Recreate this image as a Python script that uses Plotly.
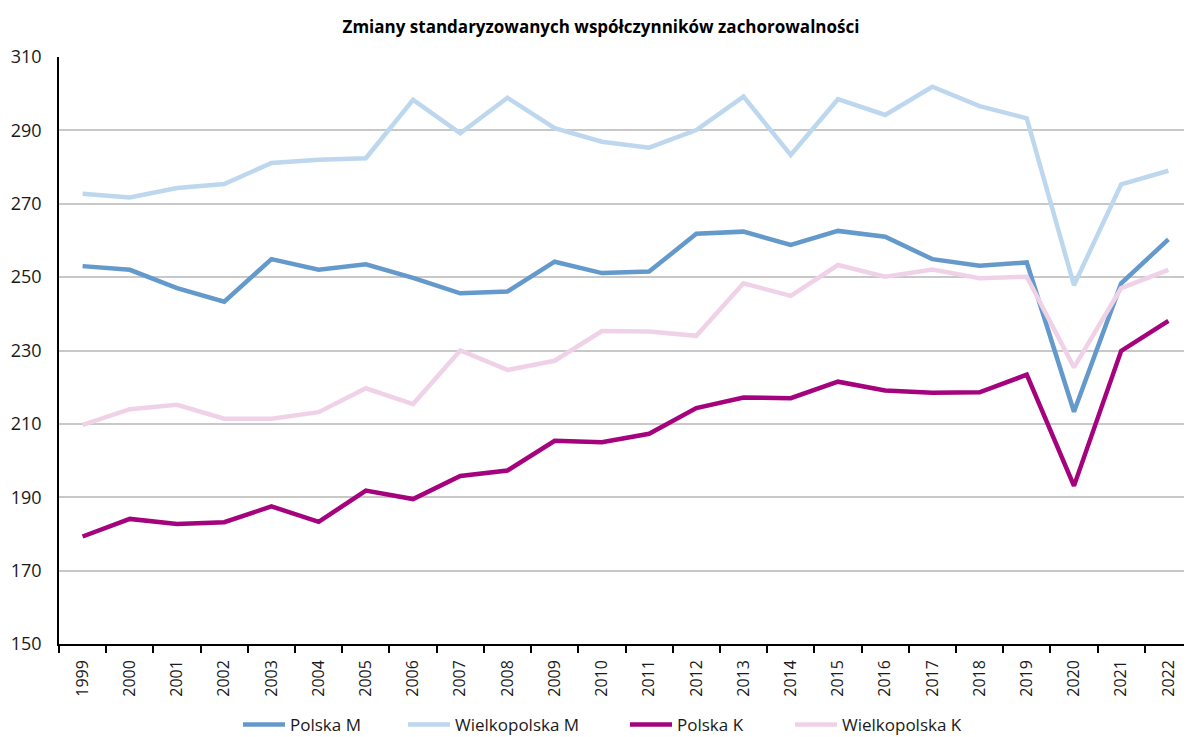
import plotly.graph_objects as go

years = [str(y) for y in range(1999, 2023)]

polska_m = [253.0, 252.0, 247.0, 243.3, 254.9, 252.0, 253.5, 249.8, 245.6, 246.1, 254.2, 251.1,
            251.5, 261.8, 262.4, 258.8, 262.6, 261.0, 254.9, 253.1, 254.0, 213.3, 248.3, 260.3]
wlkp_m = [272.7, 271.7, 274.3, 275.4, 281.1, 282.0, 282.4, 298.3, 289.2, 298.9, 290.6, 286.9,
          285.3, 290.1, 299.2, 283.3, 298.5, 294.2, 301.9, 296.6, 293.3, 247.8, 275.3, 279.0]
polska_k = [179.3, 184.1, 182.7, 183.2, 187.5, 183.3, 191.8, 189.5, 195.8, 197.3, 205.4, 205.0,
            207.3, 214.3, 217.2, 217.0, 221.5, 219.1, 218.5, 218.6, 223.4, 193.1, 229.9, 238.1]
wlkp_k = [209.7, 214.0, 215.2, 211.4, 211.4, 213.2, 219.7, 215.4, 230.0, 224.7, 227.2, 235.3,
          235.2, 234.0, 248.3, 244.9, 253.3, 250.1, 252.1, 249.7, 250.1, 225.4, 247.0, 252.0]

names = ["Polska M", "Wielkopolska M", "Polska K", "Wielkopolska K"]
colors = ["#6499CC", "#BDD7EE", "#A5027D", "#F0D2E8"]
values = [polska_m, wlkp_m, polska_k, wlkp_k]

y_ticks = [150, 170, 190, 210, 230, 250, 270, 290, 310]

# page offset of the figure (body margin) is 8 px
W, H = 1184, 729
ML, MT, MB = 51, 49, 93
plot_w = W - ML
plot_h = H - MT - MB

# target page x of each legend line start
legend_line_x = [243, 408, 630, 795]
legend_ids = ["legend", "legend2", "legend3", "legend4"]

fig = go.Figure()
for i, (name, vals, color) in enumerate(zip(names, values, colors)):
    fig.add_trace(go.Scatter(x=years, y=vals, name=name, mode="lines",
                             line=dict(color=color, width=4.5),
                             legend=legend_ids[i]))

legend_y = (636 - 717) / plot_h
layout_legends = {}
for i, lid in enumerate(legend_ids):
    layout_legends[lid] = dict(
        orientation="h", x=(legend_line_x[i] - 8 - ML - 5) / plot_w, xanchor="left",
        y=legend_y, yanchor="middle", font=dict(size=17, color="#1a1a1a"),
        itemwidth=42, bgcolor="rgba(0,0,0,0)", borderwidth=0,
    )

fig.update_layout(
    width=W, height=H,
    paper_bgcolor="white", plot_bgcolor="white",
    margin=dict(l=ML, r=0, t=MT, b=MB, pad=0, autoexpand=False),
    font=dict(family="Open Sans", color="#1a1a1a"),
    title=dict(text="<b>Zmiany standaryzowanych współczynników zachorowalności</b>",
               x=593 / W, xanchor="center", y=1 - 19 / H, yanchor="middle",
               font=dict(size=17, family="Open Sans", color="black")),
    showlegend=True,
    **layout_legends,
)

fig.update_xaxes(
    type="category", range=[-0.5, 23.5],
    showline=True, linecolor="black", linewidth=1.5,
    ticks="outside", tickson="boundaries", ticklen=7, tickcolor="black", tickwidth=1.5,
    tickangle=-90, tickfont=dict(size=16, color="#1a1a1a"), ticklabelstandoff=8,
    showgrid=False,
)
fig.update_yaxes(
    range=[150, 310], tickvals=y_ticks,
    showline=True, linecolor="black", linewidth=1.5,
    ticks="", tickfont=dict(size=18, color="#1a1a1a"), ticklabelstandoff=12,
    showgrid=True, gridcolor="#C8C8C8", gridwidth=1.5,
    zeroline=False,
)

fig.write_html("out.html")
